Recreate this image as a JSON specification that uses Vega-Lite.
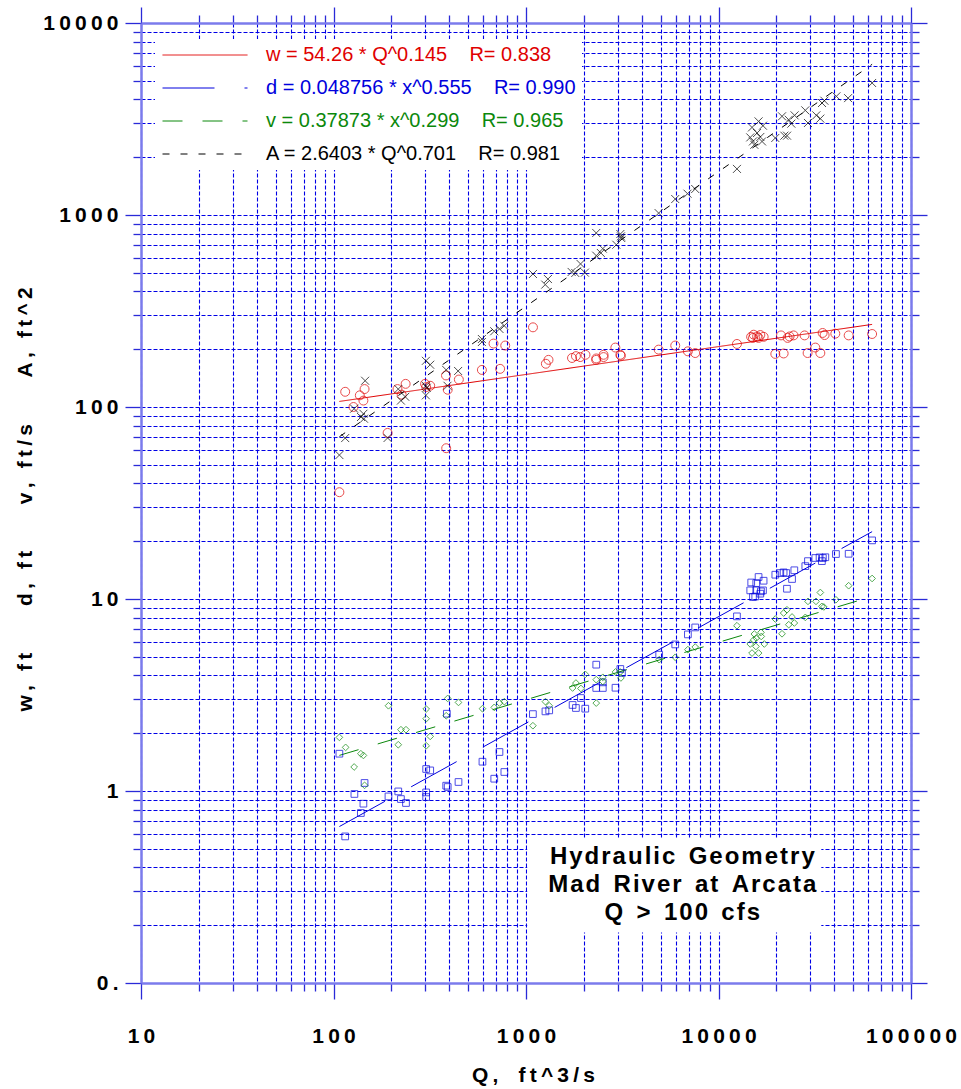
{
  "$schema": "https://vega.github.io/schema/vega-lite/v6.json",
  "width": 770,
  "height": 960,
  "autosize": {"type": "none"},
  "padding": {"left": 141, "top": 23, "right": 50, "bottom": 106},
  "background": "white",
  "config": {"view": {"stroke": null}, "font": "Liberation Sans"},
  "datasets": {
    "fits": [
      {"var": "w", "Q": 107.3, "val": 106.9}, {"var": "w", "Q": 62810, "val": 269.3},
      {"var": "d", "Q": 107.3, "val": 0.653}, {"var": "d", "Q": 62810, "val": 22.43},
      {"var": "v", "Q": 107.3, "val": 1.533}, {"var": "v", "Q": 62810, "val": 10.3},
      {"var": "A", "Q": 107.3, "val": 70.0}, {"var": "A", "Q": 62810, "val": 6094}
    ],
    "pts": [
      {"series":"A","Q":107.3,"val":56.2},{"series":"A","Q":115,"val":68.9},{"series":"A","Q":128,"val":98},{"series":"A","Q":139,"val":88.7},{"series":"A","Q":143,"val":92.2},{"series":"A","Q":144,"val":86.9},{"series":"A","Q":146,"val":137},{"series":"A","Q":191,"val":69},{"series":"A","Q":217,"val":124},{"series":"A","Q":224,"val":108},{"series":"A","Q":236,"val":113},{"series":"A","Q":302,"val":174},{"series":"A","Q":318,"val":166},{"series":"A","Q":302,"val":129},{"series":"A","Q":305,"val":126},{"series":"A","Q":302,"val":115},{"series":"A","Q":385,"val":156},{"series":"A","Q":391,"val":129},{"series":"A","Q":444,"val":154},{"series":"A","Q":590,"val":226},{"series":"A","Q":590,"val":218},{"series":"A","Q":684,"val":248},{"series":"A","Q":728,"val":255},{"series":"A","Q":771,"val":265},{"series":"A","Q":1087,"val":493},{"series":"A","Q":1259,"val":434},{"series":"A","Q":1300,"val":464},{"series":"A","Q":1726,"val":505},{"series":"A","Q":1803,"val":499},{"series":"A","Q":1920,"val":556},{"series":"A","Q":2023,"val":501},{"series":"A","Q":2317,"val":806},{"series":"A","Q":2317,"val":614},{"series":"A","Q":2449,"val":634},{"series":"A","Q":2506,"val":668},{"series":"A","Q":2946,"val":700},{"series":"A","Q":3091,"val":796},{"series":"A","Q":3112,"val":774},{"series":"A","Q":3124,"val":759},{"series":"A","Q":4887,"val":1023},{"series":"A","Q":5961,"val":1211},{"series":"A","Q":6904,"val":1291},{"series":"A","Q":7568,"val":1366},{"series":"A","Q":12470,"val":1738},{"series":"A","Q":14930,"val":2858},{"series":"A","Q":16150,"val":3073},{"series":"A","Q":17020,"val":2918},{"series":"A","Q":14620,"val":2536},{"series":"A","Q":15100,"val":2416},{"series":"A","Q":15350,"val":2321},{"series":"A","Q":16490,"val":2549},{"series":"A","Q":16830,"val":2416},{"series":"A","Q":15860,"val":2673},{"series":"A","Q":19730,"val":2519},{"series":"A","Q":21380,"val":3266},{"series":"A","Q":21980,"val":2589},{"series":"A","Q":22700,"val":2589},{"series":"A","Q":23170,"val":3133},{"series":"A","Q":23900,"val":2990},{"series":"A","Q":24850,"val":3304},{"series":"A","Q":28240,"val":3508},{"series":"A","Q":29160,"val":3015},{"series":"A","Q":32220,"val":3304},{"series":"A","Q":33810,"val":3177},{"series":"A","Q":34500,"val":3831},{"series":"A","Q":35480,"val":3938},{"series":"A","Q":40960,"val":4150},{"series":"A","Q":47120,"val":4062},{"series":"A","Q":62810,"val":4870},
      {"series":"w","Q":107.3,"val":36},{"series":"w","Q":115,"val":120},{"series":"w","Q":127,"val":100},{"series":"w","Q":137,"val":115},{"series":"w","Q":143,"val":108},{"series":"w","Q":145,"val":124},{"series":"w","Q":191,"val":73.3},{"series":"w","Q":215,"val":124},{"series":"w","Q":226,"val":116},{"series":"w","Q":237,"val":132},{"series":"w","Q":299,"val":132},{"series":"w","Q":303,"val":127},{"series":"w","Q":318,"val":129},{"series":"w","Q":384,"val":146},{"series":"w","Q":385,"val":61},{"series":"w","Q":392,"val":123},{"series":"w","Q":448,"val":139},{"series":"w","Q":590,"val":156},{"series":"w","Q":678,"val":214},{"series":"w","Q":734,"val":158},{"series":"w","Q":780,"val":209},{"series":"w","Q":1087,"val":260},{"series":"w","Q":1268,"val":168},{"series":"w","Q":1309,"val":176},{"series":"w","Q":1734,"val":180},{"series":"w","Q":1817,"val":184},{"series":"w","Q":1913,"val":182},{"series":"w","Q":2037,"val":187},{"series":"w","Q":2317,"val":176},{"series":"w","Q":2317,"val":179},{"series":"w","Q":2529,"val":187},{"series":"w","Q":2529,"val":182},{"series":"w","Q":2912,"val":204},{"series":"w","Q":3090,"val":187},{"series":"w","Q":3112,"val":185},{"series":"w","Q":4887,"val":199},{"series":"w","Q":5960,"val":209},{"series":"w","Q":6934,"val":195},{"series":"w","Q":7568,"val":191},{"series":"w","Q":12470,"val":213},{"series":"w","Q":14770,"val":232},{"series":"w","Q":15240,"val":238},{"series":"w","Q":15860,"val":233},{"series":"w","Q":16490,"val":237},{"series":"w","Q":17160,"val":232},{"series":"w","Q":16150,"val":229},{"series":"w","Q":15100,"val":229},{"series":"w","Q":19730,"val":189},{"series":"w","Q":21130,"val":236},{"series":"w","Q":21800,"val":190},{"series":"w","Q":22860,"val":229},{"series":"w","Q":23400,"val":233},{"series":"w","Q":24550,"val":236},{"series":"w","Q":28000,"val":236},{"series":"w","Q":29030,"val":191},{"series":"w","Q":31840,"val":204},{"series":"w","Q":33810,"val":191},{"series":"w","Q":34750,"val":243},{"series":"w","Q":35580,"val":237},{"series":"w","Q":40440,"val":241},{"series":"w","Q":47440,"val":236},{"series":"w","Q":62810,"val":240},
      {"series":"d","Q":107.3,"val":1.564},{"series":"d","Q":115,"val":0.58},{"series":"d","Q":128.4,"val":0.965},{"series":"d","Q":138.7,"val":0.768},{"series":"d","Q":143,"val":0.859},{"series":"d","Q":145,"val":1.101},{"series":"d","Q":193,"val":0.937},{"series":"d","Q":217,"val":0.995},{"series":"d","Q":224,"val":0.908},{"series":"d","Q":238,"val":0.866},{"series":"d","Q":303,"val":1.302},{"series":"d","Q":318,"val":1.28},{"series":"d","Q":303,"val":0.983},{"series":"d","Q":303,"val":0.93},{"series":"d","Q":385,"val":1.066},{"series":"d","Q":392,"val":1.049},{"series":"d","Q":388,"val":2.527},{"series":"d","Q":446,"val":1.114},{"series":"d","Q":594,"val":1.421},{"series":"d","Q":684,"val":1.159},{"series":"d","Q":728,"val":1.596},{"series":"d","Q":772,"val":1.256},{"series":"d","Q":1086,"val":2.515},{"series":"d","Q":1262,"val":2.598},{"series":"d","Q":1320,"val":2.63},{"series":"d","Q":1746,"val":2.806},{"series":"d","Q":1817,"val":2.706},{"series":"d","Q":1929,"val":3.05},{"series":"d","Q":2032,"val":2.684},{"series":"d","Q":2317,"val":4.55},{"series":"d","Q":2317,"val":3.44},{"series":"d","Q":2506,"val":3.44},{"series":"d","Q":2506,"val":3.68},{"series":"d","Q":2917,"val":3.45},{"series":"d","Q":3090,"val":4.32},{"series":"d","Q":3150,"val":4.12},{"series":"d","Q":4919,"val":5.13},{"series":"d","Q":5960,"val":5.8},{"series":"d","Q":6934,"val":6.54},{"series":"d","Q":7570,"val":7.11},{"series":"d","Q":12470,"val":8.12},{"series":"d","Q":14620,"val":11.09},{"series":"d","Q":15100,"val":10.24},{"series":"d","Q":15520,"val":10.3},{"series":"d","Q":15710,"val":11.09},{"series":"d","Q":14790,"val":12.19},{"series":"d","Q":15710,"val":12.1},{"series":"d","Q":16150,"val":13.02},{"series":"d","Q":16620,"val":10.96},{"series":"d","Q":17020,"val":11.09},{"series":"d","Q":17150,"val":12.45},{"series":"d","Q":16490,"val":10.66},{"series":"d","Q":19730,"val":13.38},{"series":"d","Q":20940,"val":13.65},{"series":"d","Q":21790,"val":13.76},{"series":"d","Q":22490,"val":13.65},{"series":"d","Q":22680,"val":11.31},{"series":"d","Q":24100,"val":12.71},{"series":"d","Q":24770,"val":14.11},{"series":"d","Q":28250,"val":14.83},{"series":"d","Q":29160,"val":15.75},{"series":"d","Q":31840,"val":16.35},{"series":"d","Q":33500,"val":16.47},{"series":"d","Q":34440,"val":15.75},{"series":"d","Q":34850,"val":16.35},{"series":"d","Q":35890,"val":16.5},{"series":"d","Q":40740,"val":17.15},{"series":"d","Q":47440,"val":17.2},{"series":"d","Q":62810,"val":20.2},
      {"series":"v","Q":107.3,"val":1.902},{"series":"v","Q":115.6,"val":1.687},{"series":"v","Q":128,"val":1.334},{"series":"v","Q":138.7,"val":1.564},{"series":"v","Q":143,"val":1.532},{"series":"v","Q":145,"val":1.07},{"series":"v","Q":193,"val":2.78},{"series":"v","Q":217,"val":1.742},{"series":"v","Q":224,"val":2.086},{"series":"v","Q":238,"val":2.086},{"series":"v","Q":303,"val":2.674},{"series":"v","Q":303,"val":2.38},{"series":"v","Q":303,"val":1.72},{"series":"v","Q":318,"val":1.925},{"series":"v","Q":385,"val":2.466},{"series":"v","Q":392,"val":3.035},{"series":"v","Q":446,"val":2.893},{"series":"v","Q":594,"val":2.684},{"series":"v","Q":684,"val":2.726},{"series":"v","Q":728,"val":2.873},{"series":"v","Q":772,"val":2.92},{"series":"v","Q":1086,"val":2.188},{"series":"v","Q":1262,"val":2.92},{"series":"v","Q":1320,"val":2.78},{"series":"v","Q":1746,"val":3.44},{"series":"v","Q":1817,"val":3.65},{"series":"v","Q":1929,"val":3.42},{"series":"v","Q":2032,"val":4.05},{"series":"v","Q":2317,"val":2.87},{"series":"v","Q":2317,"val":3.8},{"series":"v","Q":2506,"val":3.91},{"series":"v","Q":2506,"val":3.72},{"series":"v","Q":2917,"val":4.17},{"series":"v","Q":3090,"val":4.17},{"series":"v","Q":3112,"val":3.88},{"series":"v","Q":4919,"val":4.83},{"series":"v","Q":5960,"val":4.97},{"series":"v","Q":6934,"val":5.45},{"series":"v","Q":7570,"val":5.62},{"series":"v","Q":12470,"val":7.26},{"series":"v","Q":14930,"val":5.23},{"series":"v","Q":16150,"val":5.23},{"series":"v","Q":14620,"val":5.83},{"series":"v","Q":15650,"val":5.66},{"series":"v","Q":15240,"val":6.12},{"series":"v","Q":15710,"val":6.26},{"series":"v","Q":15350,"val":6.57},{"series":"v","Q":16620,"val":6.7},{"series":"v","Q":16680,"val":6.38},{"series":"v","Q":17300,"val":5.83},{"series":"v","Q":19730,"val":7.87},{"series":"v","Q":21380,"val":6.59},{"series":"v","Q":21800,"val":8.45},{"series":"v","Q":22680,"val":8.79},{"series":"v","Q":23170,"val":7.35},{"series":"v","Q":24100,"val":8.06},{"series":"v","Q":24770,"val":7.5},{"series":"v","Q":28250,"val":8.02},{"series":"v","Q":29160,"val":9.72},{"series":"v","Q":32100,"val":9.72},{"series":"v","Q":33810,"val":10.81},{"series":"v","Q":34440,"val":9.15},{"series":"v","Q":35230,"val":9.09},{"series":"v","Q":40740,"val":9.91},{"series":"v","Q":47440,"val":11.73},{"series":"v","Q":62810,"val":12.79}
    ]
  },
  "resolve": {"axis": {"x": "independent", "y": "independent"}},
  "layer": [
    {
      "data": {"values": [{}]},
      "mark": {"type": "rect", "fill": "white"},
      "encoding": {
        "x": {"datum": 1014, "type": "quantitative", "scale": {"type": "log", "domain": [10, 100000], "nice": false}, "axis": null},
        "x2": {"datum": 34200},
        "y": {"datum": 0.183, "type": "quantitative", "scale": {"type": "log", "domain": [0.1, 10000], "nice": false}, "axis": null},
        "y2": {"datum": 0.565}
      }
    },
    {
      "data": {"name": "fits"},
      "mark": {"type": "line", "strokeWidth": 1},
      "encoding": {
        "x": {
          "field": "Q", "type": "quantitative",
          "scale": {"type": "log", "domain": [10, 100000], "nice": false},
          "axis": {
            "orient": "bottom",
            "values": [10,20,30,40,50,60,70,80,90,100,200,300,400,500,600,700,800,900,1000,2000,3000,4000,5000,6000,7000,8000,9000,10000,20000,30000,40000,50000,60000,70000,80000,90000,100000],
            "grid": true, "gridColor": "#0000e6", "gridDash": [4, 2], "gridWidth": 1.1, "gridOpacity": 1,
            "domainColor": "#7b7bec", "domainWidth": 2.5,
            "tickColor": "#2a2ad8", "tickWidth": 1.3,
            "tickSize": {"condition": {"test": "indexof([10,100,1000,10000,100000], datum.value) >= 0", "value": 16}, "value": 8},
            "labelExpr": "indexof([10,100,1000,10000,100000], datum.value) >= 0 ? join(split(format(datum.value, 'd'), ''), '\u2009') : ''",
            "labelFont": "Liberation Sans", "labelFontSize": 21, "labelFontWeight": "bold", "labelColor": "black",
            "labelPadding": 37, "labelBaseline": "middle", "labelOverlap": false, "labelFlush": false, "labelBound": false,
            "title": "Q\u2009,\u2009\u00a0\u00a0\u2009f\u2009t\u2009^\u20093\u2009/\u2009s",
            "titleFont": "Liberation Sans", "titleFontSize": 21, "titleFontWeight": "bold", "titleColor": "black",
            "titleX": 392, "titleY": 92, "titleBaseline": "middle"
          }
        },
        "y": {
          "field": "val", "type": "quantitative",
          "scale": {"type": "log", "domain": [0.1, 10000], "nice": false},
          "axis": {
            "orient": "left",
            "values": [0.1,0.2,0.3,0.4,0.5,0.6,0.7,0.8,0.9,1,2,3,4,5,6,7,8,9,10,20,30,40,50,60,70,80,90,100,200,300,400,500,600,700,800,900,1000,2000,3000,4000,5000,6000,7000,8000,9000,10000],
            "grid": true, "gridColor": "#0000e6", "gridDash": [4, 2], "gridWidth": 1.1, "gridOpacity": 1,
            "domainColor": "#7b7bec", "domainWidth": 2.5,
            "tickColor": "#2a2ad8", "tickWidth": 1.3,
            "tickSize": {"condition": {"test": "indexof([0.1,1,10,100,1000,10000], datum.value) >= 0", "value": 16}, "value": 8},
            "labelExpr": "datum.value == 0.1 ? '0\u2009.' : indexof([1,10,100,1000,10000], datum.value) >= 0 ? join(split(format(datum.value, 'd'), ''), '\u2009') : ''",
            "labelFont": "Liberation Sans", "labelFontSize": 21, "labelFontWeight": "bold", "labelColor": "black",
            "labelPadding": 7, "labelOverlap": false, "labelFlush": false, "labelBound": false,
            "title": "w\u2009,\u2009\u00a0\u2009f\u2009t\u00a0\u00a0\u00a0\u00a0\u00a0\u00a0\u00a0\u00a0d\u2009,\u2009\u00a0\u2009f\u2009t\u00a0\u00a0\u00a0\u00a0\u00a0\u00a0\u00a0\u00a0v\u2009,\u2009\u00a0\u2009f\u2009t\u2009/\u2009s\u00a0\u00a0\u00a0\u00a0\u00a0\u00a0\u00a0\u00a0A\u2009,\u2009\u00a0\u2009f\u2009t\u2009^\u20092",
            "titleFont": "Liberation Sans", "titleFontSize": 21, "titleFontWeight": "bold", "titleColor": "black",
            "titleAngle": 270, "titleX": -116, "titleY": 476, "titleBaseline": "middle", "titleAlign": "center"
          }
        },
        "color": {
          "field": "var", "type": "nominal",
          "scale": {"domain": ["w", "d", "v", "A"], "range": ["#e00000", "#0000dd", "#0b880b", "#000000"]},
          "legend": {
            "orient": "none", "legendX": 14, "legendY": 16, "title": null,
            "symbolType": "M-5,0L5,0", "symbolSize": 289, "symbolStrokeWidth": 1, "symbolOffset": 34,
            "labelFont": "Liberation Sans", "labelFontSize": 20, "labelLimit": 0, "labelOffset": 51,
            "rowPadding": 13, "padding": 6, "fillColor": "white", "strokeColor": null,
            "labelExpr": "datum.value == 'w' ? 'w = 54.26 * Q^0.145\u00a0\u00a0\u00a0\u00a0R= 0.838' : datum.value == 'd' ? 'd = 0.048756 * x^0.555\u00a0\u00a0\u00a0\u00a0R= 0.990' : datum.value == 'v' ? 'v = 0.37873 * x^0.299\u00a0\u00a0\u00a0\u00a0R= 0.965' : 'A = 2.6403 * Q^0.701\u00a0\u00a0\u00a0\u00a0R= 0.981'",
            "encode": {"labels": {"update": {"fill": {"scale": "color", "field": "value"}}}}
          }
        },
        "strokeDash": {
          "field": "var", "type": "nominal",
          "scale": {"domain": ["w", "d", "v", "A"], "range": [[1, 0], [52, 30], [20, 20], [7, 11]]},
          "legend": {
            "orient": "none", "legendX": 14, "legendY": 16, "title": null,
            "symbolType": "M-5,0L5,0", "symbolSize": 289, "symbolStrokeWidth": 1, "symbolOffset": 34,
            "labelFont": "Liberation Sans", "labelFontSize": 20, "labelLimit": 0, "labelOffset": 51,
            "rowPadding": 13, "padding": 6, "fillColor": "white", "strokeColor": null,
            "labelExpr": "datum.value == 'w' ? 'w = 54.26 * Q^0.145\u00a0\u00a0\u00a0\u00a0R= 0.838' : datum.value == 'd' ? 'd = 0.048756 * x^0.555\u00a0\u00a0\u00a0\u00a0R= 0.990' : datum.value == 'v' ? 'v = 0.37873 * x^0.299\u00a0\u00a0\u00a0\u00a0R= 0.965' : 'A = 2.6403 * Q^0.701\u00a0\u00a0\u00a0\u00a0R= 0.981'",
            "encode": {"labels": {"update": {"fill": {"scale": "color", "field": "value"}}}}
          }
        }
      }
    },
    {
      "data": {"name": "pts"},
      "transform": [{"filter": "datum.series == 'w'"}],
      "mark": {"type": "point", "shape": "circle", "filled": false, "stroke": "#e00000", "strokeWidth": 1, "size": 80},
      "encoding": {
        "x": {
          "field": "Q", "type": "quantitative",
          "scale": {"type": "log", "domain": [10, 100000], "nice": false},
          "axis": {
            "orient": "top",
            "values": [10,20,30,40,50,60,70,80,90,100,200,300,400,500,600,700,800,900,1000,2000,3000,4000,5000,6000,7000,8000,9000,10000,20000,30000,40000,50000,60000,70000,80000,90000,100000],
            "grid": false, "labels": false, "title": null,
            "domainColor": "#7b7bec", "domainWidth": 2.5,
            "tickColor": "#2a2ad8", "tickWidth": 1.3,
            "tickSize": {"condition": {"test": "indexof([10,100,1000,10000,100000], datum.value) >= 0", "value": 16}, "value": 8}
          }
        },
        "y": {
          "field": "val", "type": "quantitative",
          "scale": {"type": "log", "domain": [0.1, 10000], "nice": false},
          "axis": {
            "orient": "right",
            "values": [0.1,0.2,0.3,0.4,0.5,0.6,0.7,0.8,0.9,1,2,3,4,5,6,7,8,9,10,20,30,40,50,60,70,80,90,100,200,300,400,500,600,700,800,900,1000,2000,3000,4000,5000,6000,7000,8000,9000,10000],
            "grid": false, "labels": false, "title": null,
            "domainColor": "#7b7bec", "domainWidth": 2.5,
            "tickColor": "#2a2ad8", "tickWidth": 1.3,
            "tickSize": {"condition": {"test": "indexof([0.1,1,10,100,1000,10000], datum.value) >= 0", "value": 16}, "value": 8}
          }
        }
      }
    },
    {
      "data": {"name": "pts"},
      "transform": [{"filter": "datum.series == 'd'"}],
      "mark": {"type": "point", "shape": "square", "filled": false, "stroke": "#0000dd", "strokeWidth": 1, "size": 45},
      "encoding": {
        "x": {"field": "Q", "type": "quantitative", "scale": {"type": "log", "domain": [10, 100000], "nice": false}, "axis": null},
        "y": {"field": "val", "type": "quantitative", "scale": {"type": "log", "domain": [0.1, 10000], "nice": false}, "axis": null}
      }
    },
    {
      "data": {"name": "pts"},
      "transform": [{"filter": "datum.series == 'v'"}],
      "mark": {"type": "point", "shape": "diamond", "filled": false, "stroke": "#0b880b", "strokeWidth": 1, "size": 45},
      "encoding": {
        "x": {"field": "Q", "type": "quantitative", "scale": {"type": "log", "domain": [10, 100000], "nice": false}, "axis": null},
        "y": {"field": "val", "type": "quantitative", "scale": {"type": "log", "domain": [0.1, 10000], "nice": false}, "axis": null}
      }
    },
    {
      "data": {"name": "pts"},
      "transform": [{"filter": "datum.series == 'A'"}],
      "mark": {"type": "point", "shape": "M-1,-1L1,1M-1,1L1,-1", "filled": false, "stroke": "#000000", "strokeWidth": 1, "size": 64},
      "encoding": {
        "x": {"field": "Q", "type": "quantitative", "scale": {"type": "log", "domain": [10, 100000], "nice": false}, "axis": null},
        "y": {"field": "val", "type": "quantitative", "scale": {"type": "log", "domain": [0.1, 10000], "nice": false}, "axis": null}
      }
    },
    {
      "data": {"values": [{}]},
      "mark": {"type": "text", "font": "Liberation Sans", "fontWeight": "bold", "fontSize": 24, "lineHeight": 28, "align": "center", "baseline": "middle", "color": "black"},
      "encoding": {
        "x": {"datum": 6488, "type": "quantitative", "scale": {"type": "log", "domain": [10, 100000], "nice": false}, "axis": null},
        "y": {"datum": 0.455, "type": "quantitative", "scale": {"type": "log", "domain": [0.1, 10000], "nice": false}, "axis": null},
        "text": {"value": [
          "H\u200Ay\u200Ad\u200Ar\u200Aa\u200Au\u200Al\u200Ai\u200Ac\u00a0\u00a0G\u200Ae\u200Ao\u200Am\u200Ae\u200At\u200Ar\u200Ay",
          "M\u200Aa\u200Ad\u00a0\u00a0R\u200Ai\u200Av\u200Ae\u200Ar\u00a0\u00a0a\u200At\u00a0\u00a0A\u200Ar\u200Ac\u200Aa\u200At\u200Aa",
          "Q\u00a0\u00a0>\u00a0\u00a01\u200A0\u200A0\u00a0\u00a0c\u200Af\u200As"
        ]}
      }
    }
  ]
}
